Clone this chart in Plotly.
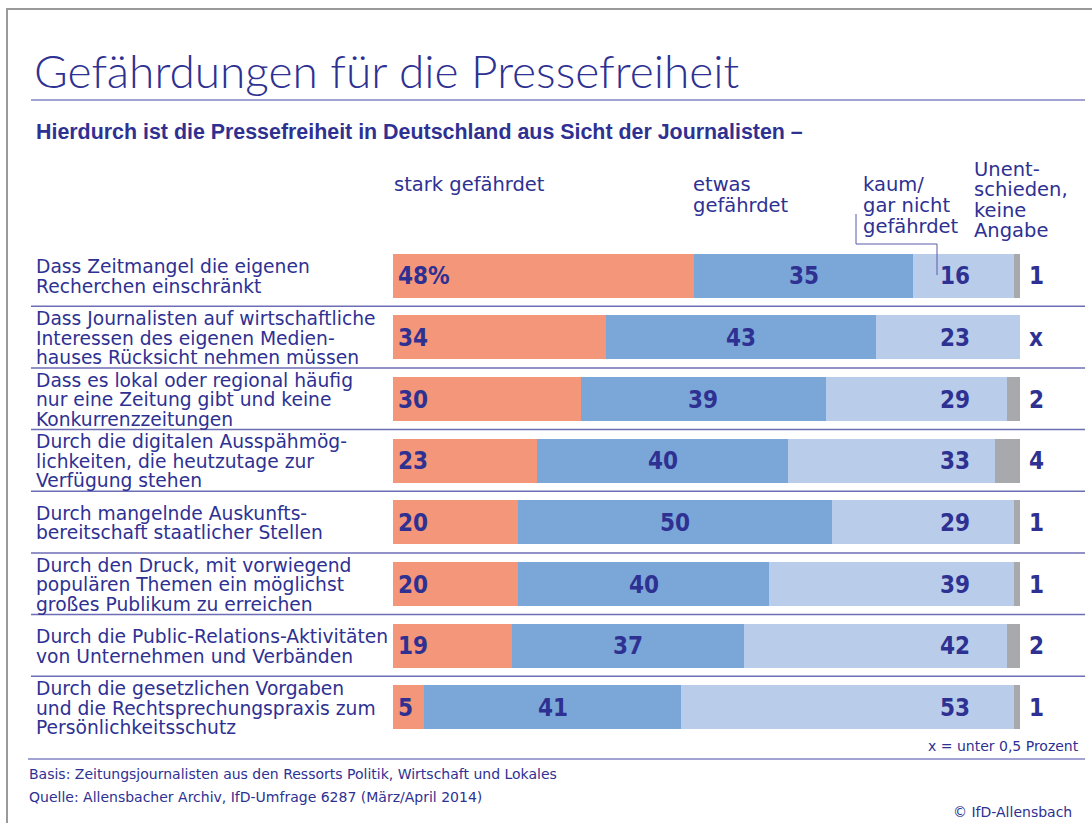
import plotly.graph_objects as go

# ---------------- data ----------------
categories = [
    "Dass Zeitmangel die eigenen\nRecherchen einschränkt",
    "Dass Journalisten auf wirtschaftliche\nInteressen des eigenen Medien-\nhauses Rücksicht nehmen müssen",
    "Dass es lokal oder regional häufig\nnur eine Zeitung gibt und keine\nKonkurrenzzeitungen",
    "Durch die digitalen Ausspähmög-\nlichkeiten, die heutzutage zur\nVerfügung stehen",
    "Durch mangelnde Auskunfts-\nbereitschaft staatlicher Stellen",
    "Durch den Druck, mit vorwiegend\npopulären Themen ein möglichst\ngroßes Publikum zu erreichen",
    "Durch die Public-Relations-Aktivitäten\nvon Unternehmen und Verbänden",
    "Durch die gesetzlichen Vorgaben\nund die Rechtsprechungspraxis zum\nPersönlichkeitsschutz",
]
stark = [48, 34, 30, 23, 20, 20, 19, 5]
etwas = [35, 43, 39, 40, 50, 40, 37, 41]
kaum = [16, 23, 29, 33, 29, 39, 42, 53]
unent = [1, 0, 2, 4, 1, 1, 2, 1]
unent_labels = ["1", "x", "2", "4", "1", "1", "2", "1"]
series_names = ["stark gefährdet", "etwas\ngefährdet", "kaum/\ngar nicht\ngefährdet", "Unent-\nschieden,\nkeine\nAngabe"]

title = "Gefährdungen für die Pressefreiheit"
subtitle = "Hierdurch ist die Pressefreiheit in Deutschland aus Sicht der Journalisten –"
note = "x = unter 0,5 Prozent"
basis = "Basis: Zeitungsjournalisten aus den Ressorts Politik, Wirtschaft und Lokales"
quelle = "Quelle: Allensbacher Archiv, IfD-Umfrage 6287 (März/April 2014)"
copyright_txt = "© IfD-Allensbach"

# ---------------- style ----------------
W, H = 1092, 823
BLUE = "#2e3192"
C_STARK = "#f4967a"
C_ETWAS = "#7ba7d8"
C_KAUM = "#b9cdea"
C_UNENT = "#a7a9ac"
SEP = "#6e6eb6"
FONT = "DejaVu Sans, Liberation Sans, sans-serif"
BOLDFONT = "Liberation Sans, Arial, sans-serif"
NUMFONT = "Liberation Sans Narrow, DejaVu Sans Condensed, Arial Narrow, sans-serif"

def px(x):
    return x / W

def py(y):
    return 1 - y / H

X0, X1 = 393, 1020          # pixel extent of 0..100
ROW0, ROWN = 275.5, 707.0   # pixel centres of first / last row
n = len(categories)
pitch = (ROWN - ROW0) / (n - 1)
ytop = ROW0 - pitch / 2
ybot = ROWN + pitch / 2

rows = list(range(n))
fig = go.Figure()
for vals, col, name in [(stark, C_STARK, series_names[0]), (etwas, C_ETWAS, series_names[1]),
                        (kaum, C_KAUM, series_names[2]), (unent, C_UNENT, series_names[3])]:
    fig.add_trace(go.Bar(y=rows, x=vals, orientation="h", marker=dict(color=col, line=dict(width=0)),
                         width=44 / pitch, name=name.replace("\n", " "), showlegend=False,
                         hoverinfo="x+name"))

ann = []

def text(x, y, s, size, color=BLUE, xanchor="left", yanchor="middle", bold=False, family=FONT,
         xref="paper", yref="paper", weight=None):
    ann.append(dict(x=x, y=y, xref=xref, yref=yref, text=(f"<b>{s}</b>" if bold else s),
                    showarrow=False, xanchor=xanchor, yanchor=yanchor,
                    font=dict(size=size, color=color, family=family, weight=weight), borderpad=0))

# title & subtitle
text(px(33), py(71), title, 46, weight=300, family="Lato, Liberation Sans, sans-serif")
text(px(35), py(132), subtitle, 21.4, bold=True, family=BOLDFONT)

# header labels (line by line)
hdr_x = [393, 692, 862, 973]
hdr_top = [185, 185, 185, 169]
for name, hx, ht in zip(series_names, hdr_x, hdr_top):
    for k, line in enumerate(name.split("\n")):
        text(px(hx), py(ht + k * 20.5), line, 19.5)

# row labels and value labels
for i, cat in enumerate(categories):
    yc = ROW0 + i * pitch
    lines = cat.split("\n")
    for k, line in enumerate(lines):
        text(px(35), py(yc + 1 + (k - (len(lines) - 1) / 2) * 19.5), line, 18.7)
    stxt = f"{stark[i]}%" if i == 0 else str(stark[i])
    ann.append(dict(x=0, y=i, xref="x", yref="y", text=f"<b>{stxt}</b>", showarrow=False,
                    xanchor="left", xshift=3, yshift=-1,
                    font=dict(size=24, color=BLUE, family=NUMFONT)))
    ann.append(dict(x=stark[i] + etwas[i] / 2, y=i, xref="x", yref="y", text=f"<b>{etwas[i]}</b>",
                    showarrow=False, xanchor="center", yshift=-1,
                    font=dict(size=24, color=BLUE, family=NUMFONT)))
    ann.append(dict(x=92.3, y=i, xref="x", yref="y", text=f"<b>{kaum[i]}</b>",
                    showarrow=False, xanchor="right", yshift=-1,
                    font=dict(size=24, color=BLUE, family=NUMFONT)))
    ann.append(dict(x=px(1036), y=i, xref="paper", yref="y", text=f"<b>{unent_labels[i]}</b>",
                    showarrow=False, xanchor="center", yshift=-1,
                    font=dict(size=24, color=BLUE, family=NUMFONT)))

# footer
text(px(1080), py(746), note, 14, xanchor="right")
text(px(28), py(774), basis, 14)
text(px(28), py(797), quelle, 14)
text(px(1073), py(812), copyright_txt, 14, xanchor="right")

shapes = []

def hline(y, x0, x1, color, width):
    shapes.append(dict(type="line", xref="paper", yref="paper", x0=px(x0), x1=px(x1),
                       y0=py(y), y1=py(y), line=dict(color=color, width=width)))

# frame
hline(9, 6, W, "#9a9a9a", 2)
shapes.append(dict(type="line", xref="paper", yref="paper", x0=px(7), x1=px(7), y0=py(9), y1=0,
                   line=dict(color="#9a9a9a", width=2)))
# title rule
hline(100, 31, 1085, "#8585c4", 1.5)
# row separators
for i in range(n - 1):
    yy = ROW0 + (i + 0.5) * pitch
    hline(yy, 31, 1085, SEP, 1.5)
hline(759, 28, 1085, "#8585c4", 1.5)
# bracket pointing at "kaum" segment
shapes.append(dict(type="path", xref="paper", yref="paper",
                   path=f"M {px(856)} {py(214)} L {px(856)} {py(244)} L {px(937)} {py(244)} L {px(937)} {py(275)}",
                   line=dict(color="#5a5aa8", width=1)))

fig.update_layout(
    width=W, height=H, margin=dict(l=0, r=0, t=0, b=0),
    paper_bgcolor="white", plot_bgcolor="white", barmode="stack", bargap=0,
    xaxis=dict(domain=[px(X0), px(X1)], range=[0, 100], visible=False, fixedrange=True),
    yaxis=dict(domain=[py(ybot), py(ytop)], range=[n - 0.5, -0.5], visible=False, fixedrange=True),
    annotations=ann, shapes=shapes, showlegend=False,
)
fig.write_html("out.html", config={"displayModeBar": False},
               post_script="document.body.style.margin='0';document.body.style.overflow='hidden';")
